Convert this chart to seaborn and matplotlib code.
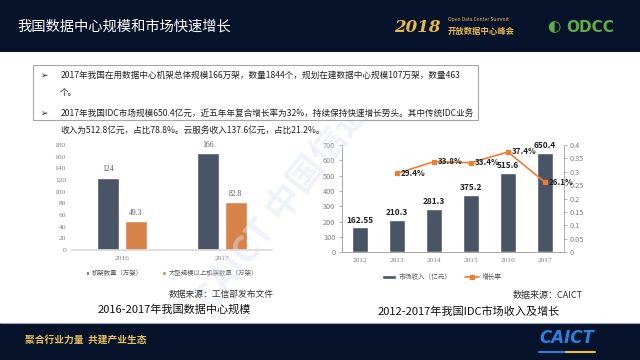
import matplotlib.pyplot as plt
import matplotlib.patches as mpatches
import numpy as np
import pandas as pd
import seaborn as sns

# slide text
slide_title = "我国数据中心规模和市场快速增长"
bullet_lines = [
    "2017年我国在用数据中心机架总体规模166万架，数量1844个，规划在建数据中心规模107万架，数量463",
    "个。",
    "2017年我国IDC市场规模650.4亿元，近五年年复合增长率为32%，持续保持快速增长势头。其中传统IDC业务",
    "收入为512.8亿元，占比78.8%。云服务收入137.6亿元，占比21.2%。",
]

# left chart data
rack_years = ["2016", "2017"]
rack_total = [124, 166]
rack_large = [49.3, 82.8]
rack_series = ["机架数量（万架）", "大型规模以上机架数量（万架）"]

# right chart data
idc_years = ["2012", "2013", "2014", "2015", "2016", "2017"]
idc_revenue = [162.55, 210.3, 281.3, 375.2, 515.6, 650.4]
idc_growth = [np.nan, 0.294, 0.338, 0.334, 0.374, 0.261]

DARK = "#44546a"
ORANGE = "#ed7d31"
NAVY = "#07122b"
GRAY = "#595959"

sns.set_theme(style="white")
plt.rcParams["font.family"] = ["Noto Sans CJK SC", "DejaVu Sans"]

fig = plt.figure(figsize=(6.4, 3.6), dpi=100)
fig.patch.set_facecolor("white")

# header / footer bands
fig.add_artist(mpatches.Rectangle((0, 0.856), 1, 0.144, transform=fig.transFigure,
                                  facecolor=NAVY, edgecolor="none", zorder=0))
fig.add_artist(mpatches.Rectangle((0, 0), 1, 0.103, transform=fig.transFigure,
                                  facecolor=NAVY, edgecolor="none", zorder=0))
fig.add_artist(plt.Line2D([0, 1], [0.103, 0.103], transform=fig.transFigure,
                          color="#9aa3b5", lw=0.8))
fig.text(0.028, 0.925, slide_title, color="white", fontsize=10.3, va="center")
fig.text(0.615, 0.925, "2018", color="#e8b84a", fontsize=12, fontweight="bold",
         style="italic", va="center", family=["DejaVu Serif"])
fig.text(0.700, 0.945, "Open Data Center Summit", color="#e8b84a", fontsize=3.6, va="center")
fig.text(0.700, 0.912, "开放数据中心峰会", color="#e8b84a", fontsize=6, fontweight="bold", va="center")
fig.text(0.855, 0.925, "◐", color="#5fae45", fontsize=11, va="center", family=["DejaVu Sans"])
fig.text(0.885, 0.925, "ODCC", color="#5fae45", fontsize=11, fontweight="bold", va="center",
         family=["DejaVu Sans"])
fig.text(0.039, 0.055, "聚合行业力量  共建产业生态", color="#e8c15a", fontsize=7,
         fontweight="bold", va="center")
fig.text(0.885, 0.060, "CAICT", color="#2f7fdc", fontsize=12, fontweight="bold",
         style="italic", ha="center", va="center", family=["DejaVu Sans"])
fig.add_artist(plt.Line2D([0.842, 0.885], [0.022, 0.022], transform=fig.transFigure,
                          color="#2f7fdc", lw=1.5))
fig.add_artist(plt.Line2D([0.885, 0.93], [0.022, 0.022], transform=fig.transFigure,
                          color="#f0c030", lw=1.5))

# watermark
fig.text(0.46, 0.47, "CAICT 中国信通院", color="#dbe4f2", fontsize=26, fontweight="bold",
         rotation=52, ha="center", va="center", alpha=0.45, zorder=0)

# bullet box
fig.add_artist(mpatches.Rectangle((0.052, 0.667), 0.695, 0.152, transform=fig.transFigure,
                                  facecolor="white", edgecolor="#a6a6a6", lw=0.8, zorder=0.5))
for y, txt, arrow in zip([0.792, 0.742, 0.686, 0.639], bullet_lines, [True, False, True, False]):
    if arrow:
        fig.text(0.063, y, "➢", fontsize=6.3, va="center", color="#222222",
                 family=["DejaVu Sans"])
    fig.text(0.094, y, txt, fontsize=6.2, va="center", color="#222222")

# left chart
ax1 = fig.add_axes([0.112, 0.3056, 0.3125, 0.2917])
ax1.patch.set_alpha(0)
df_rack = pd.DataFrame({
    "year": rack_years * 2,
    "value": rack_total + rack_large,
    "series": [rack_series[0]] * 2 + [rack_series[1]] * 2,
})
sns.barplot(data=df_rack, x="year", y="value", hue="series", palette=[DARK, ORANGE],
            width=0.56, gap=0.214, ax=ax1)
for cont in ax1.containers:
    ax1.bar_label(cont, labels=[f"{v:g}" for v in cont.datavalues], padding=3,
                  fontsize=5.5, color=GRAY, family=["Liberation Serif"])
ax1.set_ylim(0, 180)
ax1.set_yticks(range(0, 181, 20))
ax1.set_xlabel("")
ax1.set_ylabel("")
sns.despine(ax=ax1, left=True)
ax1.spines["bottom"].set_color("#d9d9d9")
ax1.tick_params(axis="both", length=0, labelsize=5.4, colors="#7f7f7f", pad=4)
for lab in ax1.get_xticklabels() + ax1.get_yticklabels():
    lab.set_family(["Liberation Serif"])
sns.move_legend(ax1, "upper center", bbox_to_anchor=(0.5, -0.13), ncol=2, frameon=False,
                title=None, fontsize=4.6, handlelength=0.6, handleheight=0.6,
                columnspacing=3, handletextpad=0.4)
for t in ax1.get_legend().get_texts():
    t.set_color(GRAY)
fig.text(0.428, 0.183, "数据来源：工信部发布文件", fontsize=6.3, ha="right", va="center",
         color="#333333")
fig.text(0.272, 0.139, "2016-2017年我国数据中心规模", fontsize=8, ha="center", va="center",
         color="#111111")

# right chart
ax2 = fig.add_axes([0.5336, 0.2992, 0.3469, 0.298])
ax2.patch.set_alpha(0)
sns.barplot(x=idc_years, y=idc_revenue, color=DARK, width=0.41, ax=ax2, label="市场收入（亿元）")
ax2.bar_label(ax2.containers[0], labels=[f"{v:g}" for v in idc_revenue], padding=2,
              fontsize=6, fontweight="bold", color="#222222")
ax2.set_ylim(0, 700)
ax2.set_yticks(range(0, 701, 100))
ax2r = ax2.twinx()
sns.pointplot(x=idc_years, y=idc_growth, order=idc_years, color=ORANGE, markers="s",
              markersize=3.5, linewidth=1.2, errorbar=None, ax=ax2r, label="增长率")
for i, g in enumerate(idc_growth):
    if not np.isnan(g):
        ax2r.annotate(f"{g * 100:.1f}%", (i, g), xytext=(3, 0), textcoords="offset points",
                      fontsize=5.8, fontweight="bold", color="#222222", va="center")
ax2r.set_ylim(0, 0.4)
ax2r.set_yticks(np.arange(0, 0.41, 0.05))
ax2r.set_yticklabels([f"{v:g}" for v in np.round(np.arange(0, 0.41, 0.05), 2)])
ax2.set_xlim(-0.5, len(idc_years) - 0.5)
for a in (ax2, ax2r):
    a.spines["top"].set_visible(False)
    for s in a.spines.values():
        s.set_color("#a6a6a6")
        s.set_linewidth(0.6)
    a.tick_params(axis="y", length=2.5, width=0.6, color="#a6a6a6", labelsize=5.3,
                  labelcolor="#7f7f7f", pad=2)
ax2.spines["right"].set_visible(False)
ax2.tick_params(axis="x", length=0, labelsize=5.3, labelcolor="#7f7f7f", pad=4)
for lab in ax2.get_xticklabels():
    lab.set_family(["Liberation Serif"])
h1, l1 = ax2.get_legend_handles_labels()
h2, l2 = ax2r.get_legend_handles_labels()
if ax2.get_legend():
    ax2.get_legend().remove()
if ax2r.get_legend():
    ax2r.get_legend().remove()
leg = ax2.legend(h1 + h2, l1 + l2, loc="upper center", bbox_to_anchor=(0.45, -0.14), ncol=2,
                 frameon=False, fontsize=4.8, handlelength=2.2, handleheight=0.5,
                 columnspacing=2, handletextpad=0.3)
for t in leg.get_texts():
    t.set_color(GRAY)
fig.text(0.911, 0.178, "数据来源：CAICT", fontsize=6.5, ha="right", va="center",
         color="#333333")
fig.text(0.733, 0.133, "2012-2017年我国IDC市场收入及增长", fontsize=8, ha="center",
         va="center", color="#111111")

fig.savefig("out.png", dpi=100)
